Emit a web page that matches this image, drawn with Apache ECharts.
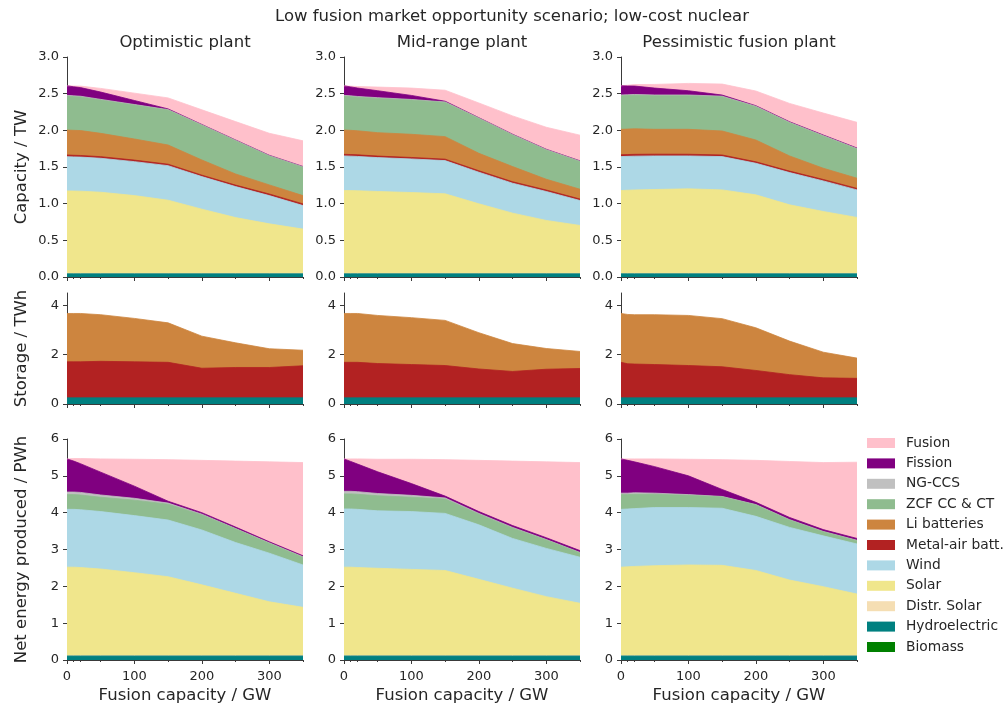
<!DOCTYPE html>
<html><head><meta charset="utf-8">
<script src="https://cdn.jsdelivr.net/npm/echarts@6/dist/echarts.min.js"></script>
<style>html,body{margin:0;padding:0;background:#fff}#c{width:1008px;height:710px}</style>
</head><body><div id="c"></div>
<script>
// ---------- data ----------
const fusionGW = [0, 10, 20, 50, 100, 150, 200, 250, 300, 350];
const xMajorTicks = [0, 100, 200, 300];
const xMinorTicks = [10, 20, 50, 150, 250, 350];
const colTitles = ['Optimistic plant', 'Mid-range plant', 'Pessimistic fusion plant'];
const rowLabels = ['Capacity / TW', 'Storage / TWh', 'Net energy produced / PWh'];
const xLabel = 'Fusion capacity / GW';
const mainTitle = 'Low fusion market opportunity scenario; low-cost nuclear';

// stacking order bottom -> top
const techs = ['Biomass', 'Hydroelectric', 'Distr. Solar', 'Solar', 'Wind', 'Metal-air batt.', 'Li batteries', 'ZCF CC & CT', 'NG-CCS', 'Fission', 'Fusion'];
const techColors = ['#008000', '#008080', '#F5DEB3', '#F0E68C', '#ADD8E6', '#B22222', '#CD853F', '#8FBC8F', '#C0C0C0', '#800080', '#FFC0CB'];

const zeros = [0, 0, 0, 0, 0, 0, 0, 0, 0, 0];

// Capacity (TW)
const capHydro = [0.045, 0.045, 0.045, 0.045, 0.045, 0.045, 0.045, 0.045, 0.045, 0.045];
const capDistrSolar = [0.005, 0.005, 0.005, 0.005, 0.005, 0.005, 0.005, 0.005, 0.005, 0.005];
const capFusion = [0, 0.01, 0.02, 0.05, 0.1, 0.15, 0.2, 0.25, 0.3, 0.35];

const capOptSolar = [1.124, 1.122, 1.12, 1.106, 1.06, 0.997, 0.875, 0.76, 0.675, 0.603];
const capOptWind = [0.467, 0.466, 0.465, 0.463, 0.463, 0.471, 0.444, 0.423, 0.385, 0.321];
const capOptMetal = [0.023, 0.022, 0.022, 0.022, 0.021, 0.02, 0.02, 0.02, 0.022, 0.023];
const capOptLi = [0.34, 0.34, 0.34, 0.318, 0.288, 0.262, 0.207, 0.152, 0.124, 0.113];
const capOptZcf = [0.463, 0.46, 0.458, 0.453, 0.462, 0.476, 0.474, 0.454, 0.394, 0.387];
const capOptNgccs = [0.01, 0.01, 0.01, 0.01, 0.008, 0.006, 0.005, 0.005, 0.005, 0.005];
const capOptFission = [0.13, 0.124, 0.118, 0.1, 0.055, 0.01, 0.005, 0.005, 0.005, 0.005];

const capMidSolar = [1.129, 1.128, 1.126, 1.116, 1.102, 1.084, 0.948, 0.821, 0.721, 0.653];
const capMidWind = [0.472, 0.47, 0.468, 0.462, 0.458, 0.453, 0.431, 0.408, 0.395, 0.34];
const capMidMetal = [0.022, 0.022, 0.022, 0.021, 0.02, 0.02, 0.02, 0.02, 0.02, 0.02];
const capMidLi = [0.331, 0.33, 0.328, 0.319, 0.316, 0.307, 0.238, 0.207, 0.147, 0.134];
const capMidZcf = [0.463, 0.46, 0.458, 0.467, 0.467, 0.467, 0.476, 0.431, 0.399, 0.377];
const capMidNgccs = [0.01, 0.01, 0.01, 0.01, 0.008, 0.006, 0.005, 0.005, 0.005, 0.005];
const capMidFission = [0.13, 0.122, 0.115, 0.095, 0.055, 0.01, 0.005, 0.005, 0.005, 0.005];

const capPesSolar = [1.129, 1.133, 1.137, 1.143, 1.152, 1.138, 1.07, 0.934, 0.843, 0.762];
const capPesWind = [0.463, 0.462, 0.461, 0.458, 0.449, 0.454, 0.431, 0.44, 0.417, 0.376];
const capPesMetal = [0.025, 0.025, 0.025, 0.024, 0.023, 0.022, 0.02, 0.02, 0.02, 0.02];
const capPesLi = [0.347, 0.347, 0.348, 0.339, 0.34, 0.327, 0.297, 0.207, 0.153, 0.139];
const capPesZcf = [0.458, 0.458, 0.458, 0.458, 0.458, 0.467, 0.454, 0.453, 0.44, 0.399];
const capPesNgccs = [0.01, 0.01, 0.01, 0.01, 0.01, 0.008, 0.006, 0.005, 0.005, 0.005];
const capPesFission = [0.126, 0.12, 0.115, 0.094, 0.058, 0.015, 0.008, 0.008, 0.008, 0.008];

// Storage (TWh)
const stoHydro = [0.25, 0.25, 0.25, 0.25, 0.25, 0.25, 0.25, 0.25, 0.25, 0.25];
const stoOptMetal = [1.46, 1.46, 1.46, 1.48, 1.46, 1.44, 1.20, 1.23, 1.23, 1.30];
const stoOptLi = [1.96, 1.96, 1.96, 1.89, 1.76, 1.60, 1.30, 1.00, 0.76, 0.63];
const stoMidMetal = [1.44, 1.44, 1.44, 1.39, 1.35, 1.31, 1.17, 1.07, 1.16, 1.19];
const stoMidLi = [1.98, 1.98, 1.98, 1.95, 1.90, 1.83, 1.47, 1.13, 0.84, 0.69];
const stoPesMetal = [1.44, 1.38, 1.37, 1.35, 1.31, 1.26, 1.11, 0.94, 0.81, 0.79];
const stoPesLi = [1.98, 2.00, 2.00, 2.02, 2.03, 1.95, 1.73, 1.36, 1.04, 0.82];

// Net energy (PWh)
const enHydro = [0.11, 0.11, 0.11, 0.11, 0.11, 0.11, 0.11, 0.11, 0.11, 0.11];
const enDistrSolar = [0.01, 0.01, 0.01, 0.01, 0.01, 0.01, 0.01, 0.01, 0.01, 0.01];

const enOptSolar = [2.40, 2.40, 2.39, 2.35, 2.25, 2.14, 1.92, 1.69, 1.46, 1.31];
const enOptWind = [1.57, 1.57, 1.57, 1.56, 1.55, 1.54, 1.49, 1.38, 1.32, 1.15];
const enOptZcf = [0.40, 0.40, 0.40, 0.39, 0.42, 0.43, 0.41, 0.37, 0.27, 0.21];
const enOptNgccs = [0.07, 0.07, 0.07, 0.06, 0.05, 0.03, 0.02, 0.01, 0.01, 0.01];
const enOptFission = [0.90, 0.84, 0.78, 0.62, 0.33, 0.05, 0.04, 0.04, 0.03, 0.03];
const enOptFusion = [0, 0.07, 0.14, 0.36, 0.73, 1.13, 1.42, 1.79, 2.17, 2.53];

const enMidSolar = [2.40, 2.40, 2.39, 2.37, 2.34, 2.31, 2.07, 1.83, 1.60, 1.42];
const enMidWind = [1.58, 1.58, 1.58, 1.56, 1.57, 1.55, 1.48, 1.35, 1.31, 1.25];
const enMidZcf = [0.41, 0.41, 0.41, 0.41, 0.39, 0.39, 0.29, 0.28, 0.23, 0.12];
const enMidNgccs = [0.07, 0.07, 0.07, 0.06, 0.05, 0.03, 0.02, 0.02, 0.01, 0.01];
const enMidFission = [0.88, 0.81, 0.75, 0.59, 0.32, 0.05, 0.05, 0.05, 0.05, 0.05];
const enMidFusion = [0, 0.07, 0.14, 0.34, 0.66, 0.99, 1.39, 1.75, 2.06, 2.39];

const enPesSolar = [2.40, 2.41, 2.42, 2.44, 2.46, 2.45, 2.31, 2.05, 1.87, 1.67];
const enPesWind = [1.57, 1.57, 1.57, 1.58, 1.56, 1.55, 1.47, 1.43, 1.38, 1.36];
const enPesZcf = [0.40, 0.39, 0.39, 0.36, 0.33, 0.31, 0.31, 0.20, 0.11, 0.09];
const enPesNgccs = [0.04, 0.04, 0.04, 0.03, 0.02, 0.01, 0.01, 0.01, 0.01, 0.01];
const enPesFission = [0.93, 0.89, 0.84, 0.72, 0.51, 0.19, 0.06, 0.06, 0.05, 0.05];
const enPesFusion = [0, 0.04, 0.08, 0.21, 0.45, 0.81, 1.14, 1.52, 1.82, 2.07];

// ---------- panel assembly (stack order as in techs) ----------
const panels = [
  [zeros, capHydro, capDistrSolar, capOptSolar, capOptWind, capOptMetal, capOptLi, capOptZcf, capOptNgccs, capOptFission, capFusion],
  [zeros, capHydro, capDistrSolar, capMidSolar, capMidWind, capMidMetal, capMidLi, capMidZcf, capMidNgccs, capMidFission, capFusion],
  [zeros, capHydro, capDistrSolar, capPesSolar, capPesWind, capPesMetal, capPesLi, capPesZcf, capPesNgccs, capPesFission, capFusion],
  [zeros, stoHydro, zeros, zeros, zeros, stoOptMetal, stoOptLi, zeros, zeros, zeros, zeros],
  [zeros, stoHydro, zeros, zeros, zeros, stoMidMetal, stoMidLi, zeros, zeros, zeros, zeros],
  [zeros, stoHydro, zeros, zeros, zeros, stoPesMetal, stoPesLi, zeros, zeros, zeros, zeros],
  [zeros, enHydro, enDistrSolar, enOptSolar, enOptWind, zeros, zeros, enOptZcf, enOptNgccs, enOptFission, enOptFusion],
  [zeros, enHydro, enDistrSolar, enMidSolar, enMidWind, zeros, zeros, enMidZcf, enMidNgccs, enMidFission, enMidFusion],
  [zeros, enHydro, enDistrSolar, enPesSolar, enPesWind, zeros, zeros, enPesZcf, enPesNgccs, enPesFission, enPesFusion]
];

// ---------- layout ----------
const FONT = 'DejaVu Sans';
const TXT = '#262626';
const AXC = '#3a3a3a';
const colLeft = [67, 344, 621];
const colW = 236;
const rowTop = [57, 293, 439];
const rowH = [220, 111, 221];
const yCfg = [
  { max: 3, interval: 0.5, fmt: v => v.toFixed(1) },
  { max: 4.5, custom: [0, 2, 4], fmt: v => String(v) },
  { max: 6, interval: 1, fmt: v => String(v) }
];

const grids = [], xAxes = [], yAxes = [], series = [];
for (let r = 0; r < 3; r++) {
  for (let c = 0; c < 3; c++) {
    const g = r * 3 + c;
    grids.push({ left: colLeft[c], top: rowTop[r], width: colW, height: rowH[r] });
    xAxes.push({
      type: 'value', gridIndex: g, min: 0, max: 350, position: 'bottom',
      splitLine: { show: false },
      axisLine: { show: true, onZero: false, lineStyle: { color: AXC, width: 1 } },
      axisTick: { show: true, length: 4, customValues: xMajorTicks, lineStyle: { color: AXC } },
      axisLabel: { show: r === 2, customValues: xMajorTicks, margin: 10, color: TXT, fontSize: 13, fontFamily: FONT }
    });
    xAxes.push({
      type: 'value', gridIndex: g, min: 0, max: 350, position: 'bottom',
      splitLine: { show: false },
      axisLine: { show: false },
      axisTick: { show: true, length: 2, customValues: xMinorTicks, lineStyle: { color: AXC } },
      axisLabel: { show: false }
    });
    const yc = yCfg[r];
    const ya = {
      type: 'value', gridIndex: g, min: 0, max: yc.max,
      splitLine: { show: false },
      axisLine: { show: true, onZero: false, lineStyle: { color: AXC, width: 1 } },
      axisTick: { show: true, length: 4, lineStyle: { color: AXC } },
      axisLabel: { margin: 8, color: TXT, fontSize: 13, fontFamily: FONT, formatter: yc.fmt }
    };
    if (yc.interval) ya.interval = yc.interval;
    if (yc.custom) { ya.axisTick.customValues = yc.custom; ya.axisLabel.customValues = yc.custom; }
    yAxes.push(ya);

    // cumulative tops of each layer; draw top layer first so lower layers paint over it
    const layers = panels[g];
    const tops = [];
    let run = fusionGW.map(() => 0);
    layers.forEach(arr => { run = run.map((v, i) => v + arr[i]); tops.push(run.slice()); });
    for (let k = layers.length - 1; k >= 0; k--) {
      const empty = layers[k].every(v => v === 0);
      series.push({
        name: techs[k], type: 'line',
        xAxisIndex: 2 * g, yAxisIndex: g,
        data: fusionGW.map((x, i) => [x, tops[k][i]]),
        symbol: 'none', silent: true,
        itemStyle: { color: techColors[k] },
        lineStyle: { width: empty ? 0 : 0.8, color: techColors[k] },
        areaStyle: { color: techColors[k], opacity: empty ? 0 : 1 }
      });
    }
  }
}

const graphics = [];
graphics.push({ type: 'text', x: 512, y: 17, style: { text: mainTitle, font: '16.5px "DejaVu Sans"', fill: TXT, align: 'center', verticalAlign: 'middle' } });
for (let c = 0; c < 3; c++) {
  graphics.push({ type: 'text', x: colLeft[c] + colW / 2, y: 43, style: { text: colTitles[c], font: '16.5px "DejaVu Sans"', fill: TXT, align: 'center', verticalAlign: 'middle' } });
  graphics.push({ type: 'text', x: colLeft[c] + colW / 2, y: 696, style: { text: xLabel, font: '16.5px "DejaVu Sans"', fill: TXT, align: 'center', verticalAlign: 'middle' } });
}
for (let r = 0; r < 3; r++) {
  graphics.push({ type: 'text', x: 22, y: rowTop[r] + rowH[r] / 2, rotation: Math.PI / 2, style: { text: rowLabels[r], font: '16.5px "DejaVu Sans"', fill: TXT, align: 'center', verticalAlign: 'middle' } });
}

const chart = echarts.init(document.getElementById('c'), null, { renderer: 'canvas' });
chart.setOption({
  animation: false,
  backgroundColor: '#fff',
  textStyle: { fontFamily: FONT },
  grid: grids, xAxis: xAxes, yAxis: yAxes, series: series,
  graphic: graphics,
  legend: {
    orient: 'vertical', left: 867, top: 436, padding: 0,
    data: techs.slice().reverse(),
    icon: 'rect', itemWidth: 28, itemHeight: 10, itemGap: 6.4,
    selectedMode: false,
    itemStyle: { borderWidth: 0, opacity: 1 },
    textStyle: { color: TXT, fontSize: 13.8, fontFamily: FONT, lineHeight: 14, padding: [0, 0, 0, 6] }
  }
});
</script></body></html>
